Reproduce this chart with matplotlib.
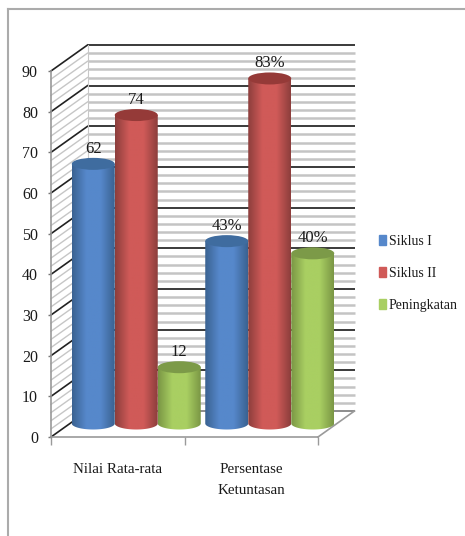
import numpy as np
import matplotlib
matplotlib.use("Agg")
from matplotlib import pyplot as plt
from matplotlib.colors import LinearSegmentedColormap
from matplotlib.lines import Line2D
from matplotlib.patches import Ellipse, Patch, PathPatch
from matplotlib.path import Path

plt.rcParams['font.family'] = ['Liberation Serif', 'DejaVu Serif']

# data
categories = ['Nilai Rata-rata', 'Persentase\nKetuntasan']
series_names = ['Siklus I', 'Siklus II', 'Peningkatan']
siklus_1 = [62, 43]
siklus_2 = [74, 83]
peningkatan = [12, 40]
value_labels = [['62', '43%'], ['74', '83%'], ['12', '40%']]
y_ticks = list(range(0, 100, 10))
y_minor = list(range(0, 92, 2))

# (edge shade, centre shade, top cap)
shades = [('#3a6291', '#5688cb', '#3f6c9f'),
          ('#8c3e3c', '#d05a58', '#953a38'),
          ('#7a9645', '#a9cf62', '#7c9a48')]

W, H = 465, 536
fig = plt.figure(figsize=(W / 100, H / 100), dpi=100)
ax = fig.add_axes([51 / W, 1 - 437 / H, 267 / W, 366 / H])
ax.set_xlim(-0.5, 1.5)
ax.set_ylim(0, 90)

px_x = 2 / 267
px_y = 90 / 366
depth_x = 36.5 * px_x
depth_y = 26 * px_y

# outer frame of the picture
fig.add_artist(Line2D([8 / W, 8 / W], [0, 1 - 9 / H], color='#ababab', lw=1.5))
fig.add_artist(Line2D([8 / W, 1], [1 - 9 / H, 1 - 9 / H], color='#ababab', lw=1.5))

# back wall and side wall
x0, x1 = -0.5, 1.5
for v in y_minor:
    if v % 10 == 0:
        continue
    ax.plot([x0 + depth_x, x1 + depth_x], [v + depth_y] * 2, color='#c4c4c4', lw=1.8,
            clip_on=False, zorder=1, solid_capstyle='butt')
    ax.plot([x0, x0 + depth_x], [v, v + depth_y], color='#c6c6c6', lw=1.0,
            clip_on=False, zorder=1)
for v in y_ticks:
    back_col = '#8c8c8c' if v == 0 else '#3a3a3a'
    ax.plot([x0 + depth_x, x1 + depth_x], [v + depth_y] * 2, color=back_col, lw=1.4,
            clip_on=False, zorder=2, solid_capstyle='butt')
    ax.plot([x0, x0 + depth_x], [v, v + depth_y], color='#222222', lw=1.2,
            clip_on=False, zorder=2)
ax.plot([x0 + depth_x] * 2, [depth_y, 90 + depth_y], color='#c8c8c8', lw=0.8,
        clip_on=False, zorder=2)
ax.plot([x1, x1 + depth_x], [0, depth_y], color='#9a9a9a', lw=1.2, clip_on=False, zorder=2)

# cylinders
bar_w = 43 * px_x
shift = 18.5 * px_x
cap_h = 12 * px_y
base = 13.5 * px_y
lift = 21 * px_y
x_pos = np.arange(len(categories))

for j, (vals, name) in enumerate(zip([siklus_1, siklus_2, peningkatan], series_names)):
    edge, mid, top = shades[j]
    cmap = LinearSegmentedColormap.from_list(name, [edge, mid, mid, edge], N=128)
    grad = np.linspace(0, 1, 128).reshape(1, -1)
    xs = x_pos + shift + (j - 1) * bar_w
    heights = [v + lift - base for v in vals]
    bars = ax.bar(xs, heights, bar_w, bottom=base, color=mid, lw=0, clip_on=False, zorder=5 + j)
    for k, b in enumerate(bars):
        left, right = b.get_x(), b.get_x() + b.get_width()
        y_b, y_t = b.get_y(), b.get_y() + b.get_height()
        cx = (left + right) / 2
        # body plus rounded bottom
        t = np.linspace(np.pi, 2 * np.pi, 40)
        bottom_edge = np.column_stack([cx + bar_w / 2 * np.cos(t), y_b + cap_h / 2 * np.sin(t)])
        verts = np.vstack([[[left, y_t]], bottom_edge, [[right, y_t]], [[left, y_t]]])
        shape = PathPatch(Path(verts, closed=True), transform=ax.transData, fc='none', lw=0)
        ax.add_patch(shape)
        shape.set_clip_on(False)
        im = ax.imshow(grad, cmap=cmap, extent=[left, right, y_b - cap_h, y_t], aspect='auto',
                       zorder=5.1 + j, interpolation='bilinear')
        im.set_clip_path(shape)
        im.set_clip_box(fig.bbox)
        b.set_visible(False)
        ax.add_patch(Ellipse((cx, y_t), bar_w, cap_h, fc=top, ec='none', clip_on=False, zorder=5.2 + j))
        ax.annotate(value_labels[j][k], (cx, y_t), xytext=(0, 15 * 0.72), textcoords='offset points',
                    ha='center', va='center', fontsize=12, color='#1a1a1a', zorder=20,
                    annotation_clip=False)

ax.set_xlim(-0.5, 1.5)
ax.set_ylim(0, 90)

# axes
for s in ['top', 'right']:
    ax.spines[s].set_visible(False)
for s in ['left', 'bottom']:
    ax.spines[s].set_color('#9a9a9a')
    ax.spines[s].set_linewidth(1.2)
ax.patch.set_alpha(0)
ax.set_yticks(y_ticks)
ax.tick_params(axis='y', length=2.4, width=1, color='#777777', pad=7, labelsize=11.5,
               labelcolor='#1a1a1a')
ax.set_xticks([-0.5, 0.5, 1.5])
ax.set_xticklabels([])
ax.tick_params(axis='x', which='major', length=5.8, width=1, color='#9a9a9a')
ax.set_xticks(x_pos, minor=True)
ax.set_xticklabels(categories, minor=True, fontsize=10.8, color='#1a1a1a', linespacing=1.84)
ax.tick_params(axis='x', which='minor', length=0, pad=18.5)

# legend
handles = [Patch(color=shades[i][1], label=series_names[i]) for i in range(3)]
fig.legend(handles=handles, loc='center left', bbox_to_anchor=(379 / W, 1 - 273.5 / H),
           frameon=False, fontsize=10, handlelength=0.5, handleheight=0.72,
           handletextpad=0.22, labelspacing=1.37, labelcolor='#1a1a1a', borderpad=0, borderaxespad=0)

fig.savefig('out.png', dpi=100)
